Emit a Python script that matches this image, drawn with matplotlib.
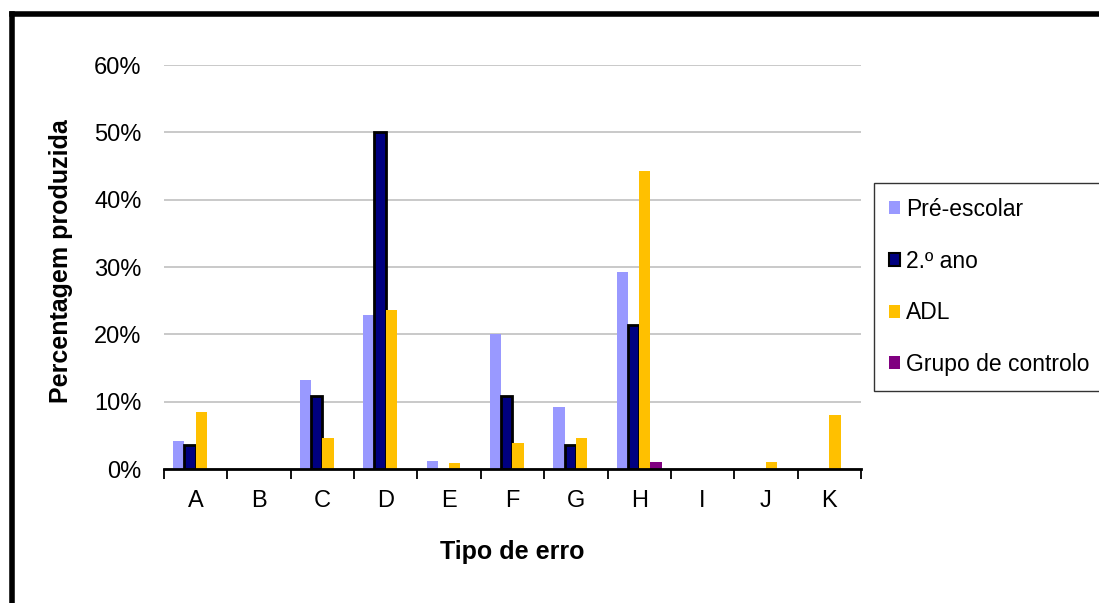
import numpy as np
import matplotlib.pyplot as plt
from matplotlib.lines import Line2D
from matplotlib.ticker import FixedLocator

plt.rcParams['font.family'] = ['Liberation Sans', 'DejaVu Sans']

categories = ['A', 'B', 'C', 'D', 'E', 'F', 'G', 'H', 'I', 'J', 'K']
pre_escolar = [4.2, 0, 13.2, 22.9, 1.2, 20.0, 9.2, 29.2, 0, 0, 0]
segundo_ano = [3.6, 0, 10.8, 50.0, 0, 10.8, 3.6, 21.4, 0, 0, 0]
adl = [8.5, 0, 4.6, 23.6, 0.9, 3.8, 4.6, 44.3, 0, 1.0, 8.0]
controlo = [0, 0, 0, 0, 0, 0, 0, 1.0, 0, 0, 0]
y_ticks = [0, 10, 20, 30, 40, 50, 60]

series = [
    ('Pré-escolar', pre_escolar, '#9999FF', None),
    ('2.º ano', segundo_ano, '#000080', 'black'),
    ('ADL', adl, '#FFC000', None),
    ('Grupo de controlo', controlo, '#800080', None),
]

fig = plt.figure(figsize=(10.99, 6.03), dpi=100)
ax = fig.add_axes([0.1492, 0.2222, 0.6342, 0.67])

x = np.arange(len(categories))
w = 0.178
handles = []
for i, (name, vals, color, edge) in enumerate(series):
    vals = np.array(vals)
    pos = x + (i - 1.5) * w
    # skip zero bars so edges don't show on baseline
    mask = vals > 0
    ax.bar(pos[mask], vals[mask], width=w, color=color,
           edgecolor=edge if edge else color,
           linewidth=2 if edge else 0, zorder=3)
    handles.append(plt.Rectangle((0, 0), 1, 1, facecolor=color,
                                 edgecolor=edge if edge else color,
                                 linewidth=1.5 if edge else 0))

ax.set_xlim(-0.5, len(categories) - 0.5)
ax.set_ylim(0, 60)
ax.set_yticks(y_ticks)
ax.set_yticklabels(['%d%%' % v for v in y_ticks])
ax.set_xticks(x)
ax.set_xticklabels(categories)
ax.xaxis.set_minor_locator(FixedLocator(np.arange(-0.5, len(categories), 1)))
ax.tick_params(axis='x', which='major', length=0, pad=15, labelsize=17)
ax.tick_params(axis='x', which='minor', length=7, width=1.3, direction='out')
ax.tick_params(axis='y', length=0, pad=16, labelsize=17)
ax.grid(axis='y', color='#C0C0C0', linewidth=1.2, zorder=0)
for s in ['top', 'right', 'left']:
    ax.spines[s].set_visible(False)
ax.spines['bottom'].set_linewidth(2)
ax.spines['bottom'].set_zorder(4)

ax.set_ylabel('Percentagem produzida', fontsize=18, fontweight='bold')
ax.yaxis.set_label_coords(-0.131, 0.515)
ax.set_xlabel('Tipo de erro', fontsize=18, fontweight='bold')
ax.xaxis.set_label_coords(0.5, -0.176)

leg = fig.legend(handles, [s[0] for s in series], loc='upper left',
                 bbox_to_anchor=(874 / 1099, 1 - 183 / 603), fontsize=16.5,
                 handlelength=0.5, handleheight=0.5, handletextpad=0.25,
                 labelspacing=1.25, borderpad=0.65, borderaxespad=0,
                 frameon=True, fancybox=False, edgecolor='black')
leg.get_frame().set_linewidth(1.0)

# outer frame (top and left edges visible)
fig.add_artist(Line2D([12 / 1099, 1.0], [1 - 14 / 603, 1 - 14 / 603],
                      color='black', linewidth=4, transform=fig.transFigure))
fig.add_artist(Line2D([12 / 1099, 12 / 1099], [1 - 14 / 603, 0.0],
                      color='black', linewidth=4, transform=fig.transFigure))

fig.savefig('out.png', dpi=100)
